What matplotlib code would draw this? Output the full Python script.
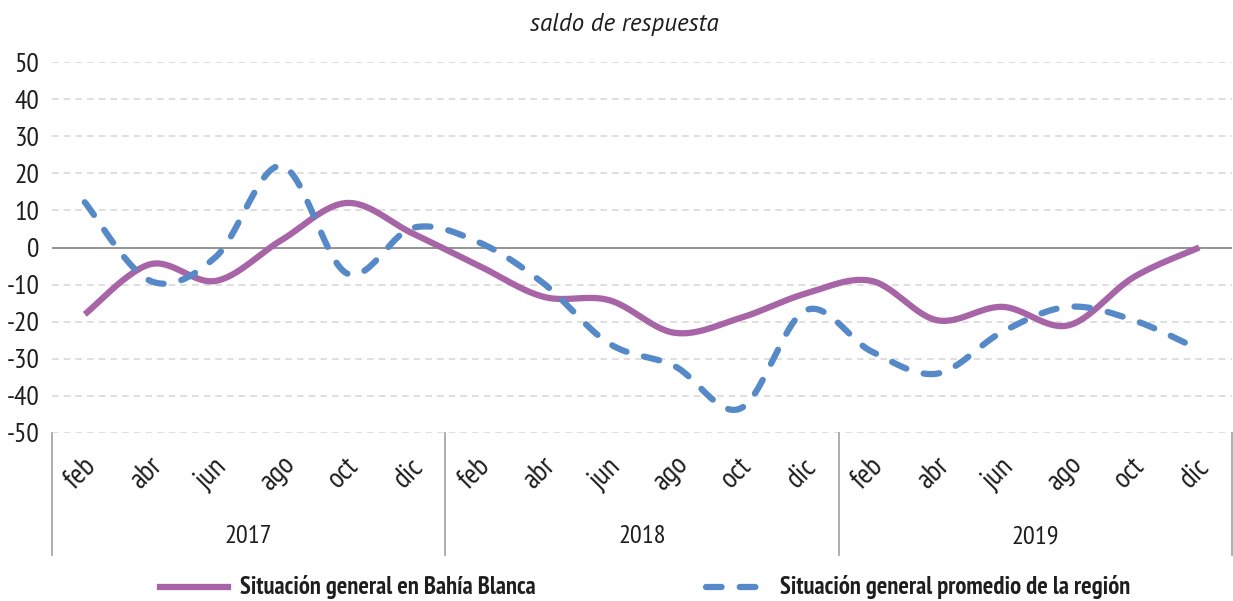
import numpy as np
import matplotlib
matplotlib.use("Agg")
import matplotlib.pyplot as plt
import matplotlib.transforms as mtransforms
from matplotlib.lines import Line2D

plt.rcParams['font.family'] = ['PT Sans Narrow', 'DejaVu Sans']

# datos
meses = ["feb", "abr", "jun", "ago", "oct", "dic"]
anios = ["2017", "2018", "2019"]
bahia_blanca = [-18, -4.5, -9, 2, 12, 3.8,
                -4.8, -13.3, -14.2, -23, -19, -12.4,
                -9, -19.6, -16, -21, -8, 0]
region = [12.2, -9, -2.5, 22, -7, 5.3,
          1.5, -9.7, -25.9, -32, -43.4, -16.9,
          -28, -34, -22.7, -16, -19.6, -27.5]


def suavizar(y, n=30):
    # curva tipo Catmull-Rom (como la linea suavizada de Excel)
    y = np.asarray(y, float)
    x = np.arange(len(y), dtype=float)
    px = np.concatenate([[x[0]], x, [x[-1]]])
    py = np.concatenate([[y[0]], y, [y[-1]]])
    xs, ys = [], []
    t = np.linspace(0, 1, n)
    for i in range(1, len(px) - 2):
        p0, p1, p2, p3 = np.array([px[i-1], py[i-1]]), np.array([px[i], py[i]]), \
            np.array([px[i+1], py[i+1]]), np.array([px[i+2], py[i+2]])
        c1 = p1 + (p2 - p0) / 6
        c2 = p2 - (p3 - p1) / 6
        for tt in t:
            b = ((1-tt)**3) * p1 + 3*((1-tt)**2)*tt*c1 + 3*(1-tt)*tt**2*c2 + tt**3*p2
            xs.append(b[0])
            ys.append(b[1])
    return np.array(xs), np.array(ys)


fig = plt.figure(figsize=(12.33, 6.01), dpi=100)
ax = fig.add_axes([52/1233, 1-433/601, 1180/1233, 371/601])

purpura = "#A764A6"
azul = "#5689C8"
texto = "#1E1E1E"
guiones = (0, (2.5, 2.9))

for v in range(-50, 60, 10):
    if v == 0:
        ax.axhline(0, color="#808080", lw=1.2, zorder=1)
    else:
        ax.axhline(v, color="#D9D9D9", lw=1.2, ls=(0, (4, 3)), zorder=0)

x1, y1 = suavizar(bahia_blanca)
x2, y2 = suavizar(region)
ax.plot(x1, y1, color=purpura, lw=4.5, solid_capstyle="butt", zorder=3)
ax.plot(x2, y2, color=azul, lw=4.5, ls=guiones, dash_capstyle="round", zorder=4)

n = len(bahia_blanca)
ax.set_xlim(-0.5, n - 0.5)
ax.set_ylim(-50, 50)
ax.set_yticks(range(-50, 60, 10))
ax.set_yticklabels([str(v) for v in range(-50, 60, 10)], fontsize=20, color=texto)
ax.tick_params(axis="y", length=0, pad=9)
ax.set_xticks([])
for s in ["top", "right", "left", "bottom"]:
    ax.spines[s].set_visible(False)

trans = mtransforms.blended_transform_factory(ax.transData, ax.transAxes)
for i in range(n):
    ax.text(i - 0.06, -0.108, meses[i % 6], transform=trans, rotation=45, ha="center",
            va="center", fontsize=21, color=texto, rotation_mode="anchor")
for k in range(len(anios)):
    ax.text(6*k + 2.5, -0.28, anios[k], transform=trans, ha="center", va="center",
            fontsize=19, color=texto)
for k in range(len(anios) + 1):
    ax.plot([6*k - 0.5, 6*k - 0.5], [0, -0.33], transform=trans, color="#A0A0A0",
            lw=1.2, clip_on=False)

fig.text(0.506, 1-25/601, "saldo de respuesta", ha="center", va="center",
         fontsize=18, style="italic", color=texto, family=["PT Sans", "DejaVu Sans"])

fig.add_artist(Line2D([160/1233, 228/1233], [0.023, 0.023], color=purpura, lw=4.5,
                      transform=fig.transFigure))
fig.text(240/1233, 0.023, "Situación general en Bahía Blanca", ha="left", va="center",
         fontsize=17.7, fontweight="bold", color=texto)
fig.add_artist(Line2D([706/1233, 765/1233], [0.023, 0.023], color=azul, lw=4.5,
                      ls=guiones, dash_capstyle="round", transform=fig.transFigure))
fig.text(780/1233, 0.023, "Situación general promedio de la región", ha="left", va="center",
         fontsize=17.7, fontweight="bold", color=texto)

fig.savefig("out.png", dpi=100)
